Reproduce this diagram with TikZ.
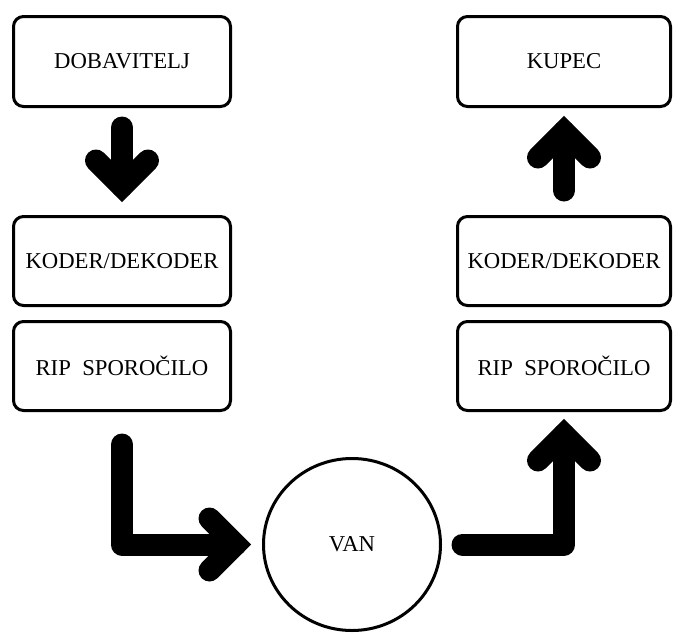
\documentclass[tikz,border=0pt]{standalone}
\usepackage{fontspec}
\setmainfont{Liberation Serif}
\usetikzlibrary{shapes.geometric}

\tikzset{
  txt/.style={font=\fontsize{22.7}{26}\selectfont},
  box/.style={txt, draw, line width=3pt, rounded corners=10pt, minimum height=90pt, inner sep=0pt},
  fat/.style={line width=22pt, line cap=round, line join=round},
  chevron/.pic={\draw[line width=22pt, line cap=round, line join=miter] (-26,-26) -- (0,0) -- (26,-26);}
}

\begin{document}
\begin{tikzpicture}[x=1pt, y=-1pt]
  \useasboundingbox (0,0) rectangle (673,633);
  \node[box, minimum width=217pt] (dob) at (122,61.5) {DOBAVITELJ};
  \node[box, minimum width=217pt, minimum height=89pt] (kodL) at (122,261) {KODER/DEKODER};
  \node[box, minimum width=217pt, minimum height=89pt] (ripL) at (122,366) {RIP~~SPOROČILO};
  \node[box, minimum width=213pt] (kup) at (564,61.5) {KUPEC};
  \node[box, minimum width=213pt, minimum height=89pt] (kodR) at (564,261) {KODER/DEKODER};
  \node[box, minimum width=213pt, minimum height=89pt] (ripR) at (564,366) {RIP~~SPOROČILO};
  \node[txt, draw, ellipse, line width=3pt, minimum width=177pt, minimum height=172pt, inner sep=0pt] (van) at (352,544.5) {VAN};

  \draw[fat] ([yshift=-19.5pt]dob.south) -- ([yshift=28.5pt]kodL.north) coordinate (t1);
  \pic at (t1) {chevron};
  \draw[fat] ([yshift=-32.5pt]ripL.south) |- ([xshift=-26.5pt]van.west) coordinate (t2);
  \pic[rotate=90] at (t2) {chevron};
  \draw[fat] ([xshift=20.5pt]van.east) -| ([yshift=-22.5pt]ripR.south) coordinate (t3);
  \pic[rotate=180] at (t3) {chevron};
  \draw[fat] ([yshift=24.5pt]kodR.north) -- ([yshift=-23.5pt]kup.south) coordinate (t4);
  \pic[rotate=180] at (t4) {chevron};
\end{tikzpicture}
\end{document}
